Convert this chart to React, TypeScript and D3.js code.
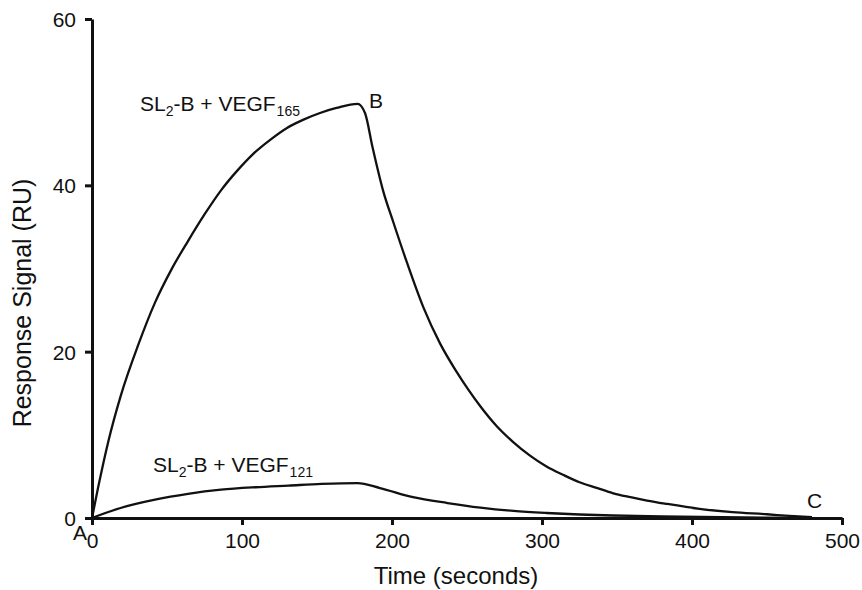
import { useEffect, useRef } from "react";
import * as d3 from "d3";

// SL2-B + VEGF165 sensorgram (time s, response RU)
const T_165 = [0, 4, 11, 19, 31, 42, 53, 64, 75, 86, 97, 107, 119, 130, 141, 152, 163, 177, 182, 187, 194, 201, 210, 221, 232, 243, 251, 259, 270, 281, 292, 303, 314, 325, 337, 347, 359, 370, 383, 405, 427, 450, 465, 480];
const R_165 = [0, 3.6, 9.3, 14.6, 20.9, 25.9, 29.9, 33.3, 36.5, 39.4, 41.8, 43.7, 45.5, 46.9, 47.9, 48.7, 49.3, 49.8, 48.7, 44.6, 39.4, 35.5, 30.7, 25.3, 21.0, 17.6, 15.4, 13.4, 11.0, 9.1, 7.5, 6.2, 5.2, 4.3, 3.6, 3.0, 2.5, 2.1, 1.7, 1.1, 0.7, 0.45, 0.25, 0.1];

// SL2-B + VEGF121
const T_121 = [0, 19, 42, 64, 86, 109, 131, 153, 177, 192, 214, 237, 259, 281, 303, 325, 347, 380, 420, 480];
const R_121 = [0, 1.2, 2.2, 2.9, 3.4, 3.7, 3.9, 4.1, 4.2, 3.6, 2.5, 1.8, 1.25, 0.85, 0.6, 0.42, 0.3, 0.2, 0.1, 0];

const X_TICKS = [0, 100, 200, 300, 400, 500];
const Y_TICKS = [0, 20, 40, 60];

const W = 862;
const H = 590;
const FONT = "'Liberation Sans', Arial, Helvetica, sans-serif";

export default function App() {
  const ref = useRef<SVGSVGElement>(null);

  useEffect(() => {
    if (!ref.current) return;
    const svg = d3.select(ref.current);
    svg.selectAll("*").remove();

    const x = d3.scaleLinear().domain([0, 500]).range([92, 842]);
    const y = d3.scaleLinear().domain([0, 60]).range([518, 19]);

    const line = d3
      .line<[number, number]>()
      .x((d) => x(d[0]))
      .y((d) => y(d[1]))
      .curve(d3.curveMonotoneX);

    const g = svg.append("g").attr("font-family", FONT).attr("fill", "#111");

    // curves
    const s165 = T_165.map((t, i) => [t, R_165[i]] as [number, number]);
    const s121 = T_121.map((t, i) => [t, R_121[i]] as [number, number]);
    [s165, s121].forEach((s) => {
      g.append("path")
        .attr("d", line(s) as string)
        .attr("fill", "none")
        .attr("stroke", "#111")
        .attr("stroke-width", 2.3)
        .attr("stroke-linejoin", "round");
    });

    // y axis
    const yAxis = g.append("g").attr("transform", `translate(${x(0)},0)`)
      .call(d3.axisLeft(y).tickValues(Y_TICKS).tickSize(7).tickSizeOuter(0).tickPadding(9));
    yAxis.select(".domain").attr("stroke", "#111").attr("stroke-width", 3);
    yAxis.selectAll(".tick line").attr("stroke", "#111").attr("stroke-width", 3);
    yAxis.selectAll(".tick text").attr("font-size", 21).attr("font-family", FONT).attr("fill", "#111")
      .attr("dy", "0.35em");

    // x axis
    const xAxis = g.append("g").attr("transform", `translate(0,${y(0)})`)
      .call(d3.axisBottom(x).tickValues(X_TICKS).tickSize(7).tickSizeOuter(0).tickPadding(8));
    xAxis.select(".domain").attr("stroke", "#111").attr("stroke-width", 3);
    xAxis.selectAll(".tick line").attr("stroke", "#111").attr("stroke-width", 3);
    xAxis.selectAll(".tick text").attr("font-size", 21).attr("font-family", FONT).attr("fill", "#111");

    // axis titles
    g.append("text")
      .attr("x", 456).attr("y", 584)
      .attr("text-anchor", "middle").attr("font-size", 24)
      .text("Time (seconds)");
    g.append("text")
      .attr("transform", `translate(31,${303}) rotate(-90)`)
      .attr("text-anchor", "middle").attr("font-size", 25)
      .text("Response Signal (RU)");

    // curve labels
    const label = (lx: number, ly: number, sub: string) => {
      const t = g.append("text").attr("x", lx).attr("y", ly).attr("font-size", 21);
      t.append("tspan").text("SL");
      t.append("tspan").attr("font-size", 14).attr("dy", 5).text("2");
      t.append("tspan").attr("dy", -5).text("-B + VEGF");
      t.append("tspan").attr("font-size", 14).attr("dy", 5).attr("dx", 1).text(sub);
    };
    label(140, 111, "165");
    label(153, 472, "121");

    // point markers A, B, C
    g.append("text").attr("x", 73).attr("y", 540).attr("font-size", 21).text("A");
    g.append("text").attr("x", 369).attr("y", 108).attr("font-size", 21).text("B");
    g.append("text").attr("x", 807).attr("y", 508).attr("font-size", 21).text("C");
  }, []);

  return (
    <svg
      ref={ref}
      width={W}
      height={H}
      viewBox={`0 0 ${W} ${H}`}
      style={{ position: "absolute", left: 0, top: 0, background: "#fff" }}
    />
  );
}
